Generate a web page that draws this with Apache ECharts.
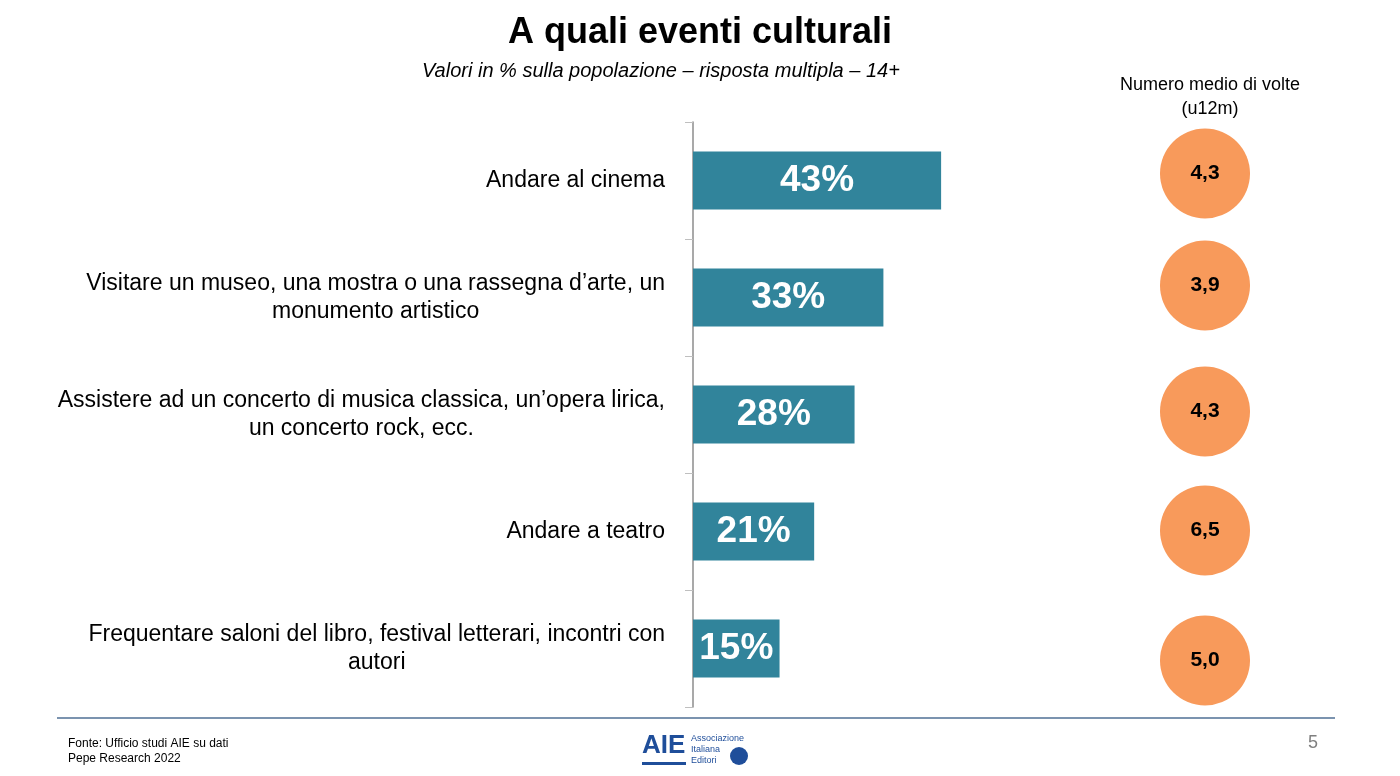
<!DOCTYPE html>
<html>
<head>
<meta charset="utf-8">
<script src="https://cdn.jsdelivr.net/npm/echarts@6/dist/echarts.min.js"></script>
<style>
  html, body { margin: 0; padding: 0; background: #fff; }
  #chart { width: 1400px; height: 776px; }
</style>
</head>
<body>
<div id="chart"></div>
<script>
var categories = [
    'Andare al cinema',
    'Visitare un museo, una mostra o una rassegna d\u2019arte, un\nmonumento artistico',
    'Assistere ad un concerto di musica classica, un\u2019opera lirica,\nun concerto rock, ecc.',
    'Andare a teatro',
    'Frequentare saloni del libro, festival letterari, incontri con\nautori'
];
var percentages = [43, 33, 28, 21, 15];
var avgTimes = [4.3, 3.9, 4.3, 6.5, 5.0];

var font = 'Liberation Sans, Arial, sans-serif';
var circleOffsets = [[0, -7], [0, -12], [0, -3], [0, -1], [0, 12]];
var chart = echarts.init(document.getElementById('chart'));

var option = {
    animation: false,
    textStyle: { fontFamily: font },
    title: [
        {
            text: 'A quali eventi culturali',
            left: 'center',
            top: 10,
            textStyle: { fontSize: 36, fontWeight: 'bold', color: '#000', fontFamily: font }
        },
        {
            text: 'Valori in % sulla popolazione \u2013 risposta multipla \u2013 14+',
            left: 417,
            top: 56,
            textStyle: { fontSize: 20, fontStyle: 'italic', fontWeight: 'normal', color: '#000', fontFamily: font }
        },
        {
            text: 'Numero medio di volte\n(u12m)',
            left: 1205,
            top: 68,
            textAlign: 'center',
            textStyle: { fontSize: 18, fontWeight: 'normal', color: '#000', lineHeight: 24, fontFamily: font }
        }
    ],
    grid: [
        { left: 693, right: 130, top: 122, height: 585 },
        { left: 1150, width: 110, top: 122, height: 585 }
    ],
    xAxis: [
        { gridIndex: 0, type: 'value', min: 0, max: 100, show: false },
        { gridIndex: 1, type: 'value', min: -1, max: 1, show: false }
    ],
    yAxis: [
        {
            gridIndex: 0,
            type: 'category',
            inverse: true,
            data: categories,
            axisLine: { lineStyle: { color: '#8c8c8c', width: 1.5 } },
            axisTick: { show: true, length: 8, lineStyle: { color: '#bfbfbf' } },
            axisLabel: {
                margin: 28,
                align: 'right',
                formatter: function (v) { return '{a|' + v + '}'; },
                rich: { a: { align: 'center', fontSize: 23, lineHeight: 28, color: '#000', fontFamily: font } }
            }
        },
        {
            gridIndex: 1,
            type: 'category',
            inverse: true,
            data: categories,
            show: false
        }
    ],
    series: [
        {
            type: 'bar',
            xAxisIndex: 0,
            yAxisIndex: 0,
            data: percentages,
            barWidth: 58,
            itemStyle: { color: '#31849b' },
            label: {
                show: true,
                position: 'inside',
                formatter: '{c}%',
                color: '#fff',
                fontSize: 37,
                fontWeight: 'bold',
                fontFamily: font
            }
        },
        {
            type: 'scatter',
            xAxisIndex: 1,
            yAxisIndex: 1,
            data: avgTimes.map(function (v, i) {
                return { value: [0, i], symbolOffset: circleOffsets[i] };
            }),
            symbolSize: 90,
            itemStyle: { color: '#f89a5b', opacity: 1 },
            label: {
                show: true,
                position: 'inside',
                formatter: function (p) { return avgTimes[p.dataIndex].toFixed(1).replace('.', ','); },
                color: '#000',
                fontSize: 21,
                fontWeight: 'bold',
                fontFamily: font
            }
        }
    ],
    graphic: [
        { type: 'line', shape: { x1: 57, y1: 718, x2: 1335, y2: 718 }, style: { stroke: '#4f6f94', lineWidth: 1.5 } },
        { type: 'text', left: 68, top: 736, style: { text: 'Fonte: Ufficio studi AIE su dati\nPepe Research 2022', fontSize: 12, lineHeight: 15, fill: '#000', fontFamily: font } },
        { type: 'text', left: 1308, top: 734, style: { text: '5', fontSize: 18, fill: '#7f7f7f', fontFamily: font } },
        { type: 'text', left: 642, top: 733, style: { text: 'AIE', fontSize: 26, fontWeight: 'bold', fill: '#1f4e9a', fontFamily: font } },
        { type: 'rect', shape: { x: 642, y: 762, width: 44, height: 3 }, style: { fill: '#1f4e9a' } },
        { type: 'text', left: 691, top: 733, style: { text: 'Associazione\nItaliana\nEditori', fontSize: 9, lineHeight: 11, fill: '#1f4e9a', fontFamily: font } },
        { type: 'circle', shape: { cx: 739, cy: 756, r: 9 }, style: { fill: '#1f4e9a' } }
    ]
};

chart.setOption(option);
</script>
</body>
</html>
